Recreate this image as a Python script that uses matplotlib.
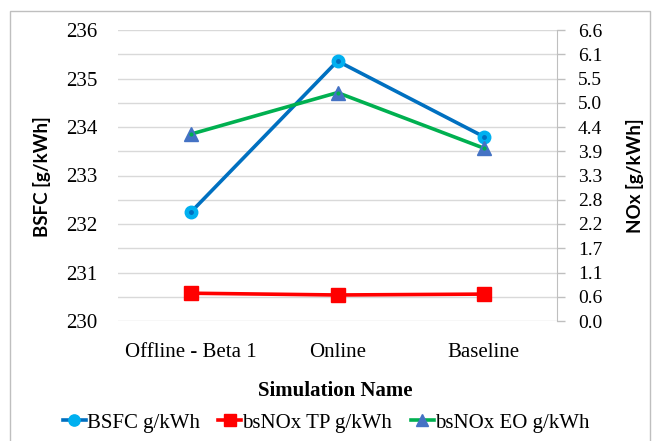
import matplotlib
matplotlib.use("Agg")
import matplotlib.pyplot as plt
from matplotlib.patches import Rectangle

categorias = ["Offline - Beta 1", "Online", "Baseline"]
bsfc = [232.25, 235.36, 233.80]
nox_tp = [0.63, 0.59, 0.61]
nox_eo = [4.24, 5.18, 3.92]

bsfc_ticks = [230, 231, 232, 233, 234, 235, 236]
nox_ticks = [0.0, 0.55, 1.1, 1.65, 2.2, 2.75, 3.3, 3.85, 4.4, 4.95, 5.5, 6.05, 6.6]
nox_labels = ["0.0", "0.6", "1.1", "1.7", "2.2", "2.8", "3.3", "3.9", "4.4", "5.0", "5.5", "6.1", "6.6"]

serif = "Liberation Serif"
sans = "Lato"

fig = plt.figure(figsize=(6.52, 4.41), dpi=100)
fig.patches.append(Rectangle((10 / 652, -0.05), 640 / 652, 1 - 11 / 441 + 0.05,
                             transform=fig.transFigure, fill=False,
                             edgecolor="#bfbfbf", linewidth=1.0))

ax = fig.add_axes([118 / 652, 1 - 321 / 441, 439 / 652, 291 / 441])
ax2 = ax.twinx()

x = range(len(categorias))

# grelha a cada 0.5 no eixo esquerdo
ax.set_ylim(230, 236)
ax.set_yticks(bsfc_ticks)
ax.set_yticks([230 + 0.5 * i for i in range(13)], minor=True)
ax.grid(True, which="both", axis="y", color="#d9d9d9", linewidth=1.0)
ax.set_axisbelow(True)
ax.set_xlim(-0.5, 2.5)
ax.set_xticks(list(x))
ax.set_xticklabels(categorias, fontfamily=serif, fontsize=15)
ax.tick_params(axis="x", length=0, pad=16)
ax.tick_params(axis="y", which="both", length=0, pad=15)
for lab in ax.get_yticklabels():
    lab.set_fontfamily(serif)
    lab.set_fontsize(15)
for s in ["top", "right", "left", "bottom"]:
    ax.spines[s].set_visible(False)

l1, = ax.plot(x, bsfc, color="#0070C0", linewidth=2.6, marker="o", markersize=9,
              markerfacecolor="#00B0F0", markeredgecolor="#00B0F0", label="BSFC g/kWh")
ax.plot(x, bsfc, linestyle="none", marker="o", markersize=2.5, color="#0070C0")

ax2.set_ylim(0, 6.6)
ax2.set_yticks(nox_ticks)
ax2.set_yticklabels(nox_labels, fontfamily=serif, fontsize=14)
ax2.tick_params(axis="y", length=6, width=1, color="#bfbfbf", pad=9)
for s in ["top", "left", "bottom"]:
    ax2.spines[s].set_visible(False)
ax2.spines["right"].set_color("#bfbfbf")

l2, = ax2.plot(x, nox_tp, color="#FF0000", linewidth=2.6, marker="s", markersize=10,
               markerfacecolor="#FF0000", markeredgecolor="#FF0000", label="bsNOx TP g/kWh")
l3, = ax2.plot(x, nox_eo, color="#00B050", linewidth=2.6, marker="^", markersize=10,
               markerfacecolor="#4472C4", markeredgecolor="#4472C4", label="bsNOx EO g/kWh")
ax2.plot(x, nox_eo, linestyle="none", marker="o", markersize=2, color="#00B050")

fig.text(335 / 652, 1 - 391 / 441, "Simulation Name", ha="center", va="center",
         fontfamily=serif, fontsize=15, fontweight="bold")
fig.text(42 / 652, 1 - 177 / 441, "BSFC [g/kWh]", rotation=90, ha="center", va="center",
         fontfamily=sans, fontsize=13.5, fontweight="bold")
fig.text(635 / 652, 1 - 176 / 441, "NOx [g/kWh]", rotation=90, ha="center", va="center",
         fontfamily=sans, fontsize=13.5, fontweight="bold")

fig.legend(handles=[l1, l2, l3], loc="center", bbox_to_anchor=(326 / 652, 1 - 423 / 441),
           ncol=3, frameon=False, prop={"family": serif, "size": 15},
           handlelength=1.1, handletextpad=0.05, columnspacing=0.9, markerscale=0.9)

fig.savefig("out.png", dpi=100)
